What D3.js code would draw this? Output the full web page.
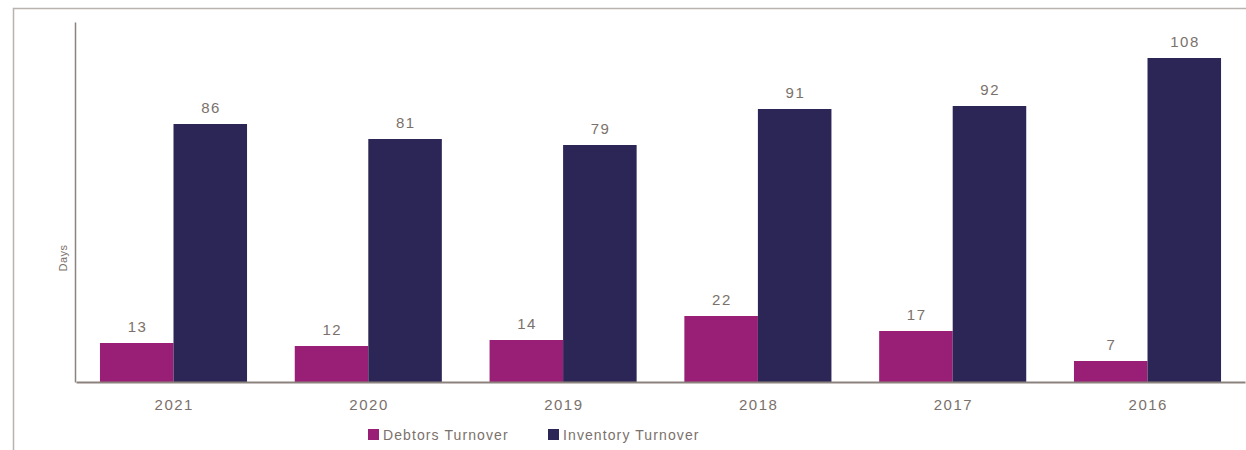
<!DOCTYPE html>
<html><head><meta charset="utf-8">
<script src="https://cdn.jsdelivr.net/npm/d3@7"></script>
<style>body{margin:0;background:#fff;} svg{display:block;font-family:"Liberation Sans",Arial,sans-serif;}</style>
</head><body>
<svg id="c" width="1246" height="450"></svg>
<script>
const years = ["2021","2020","2019","2018","2017","2016"];
const debtors = [13,12,14,22,17,7];
const inventory = [86,81,79,91,92,108];
const seriesNames = ["Debtors Turnover","Inventory Turnover"];
const colors = ["#981e76","#2c2656"];
const yTitle = "Days";

const svg = d3.select("#c");
const x0 = d3.scaleBand().domain(years).range([76,1245]).paddingInner(0.245).paddingOuter(0.123);
const x1 = d3.scaleBand().domain([0,1]).range([0,x0.bandwidth()]);
const y = d3.scaleLinear().domain([0,120]).range([382,22]);

// frame
svg.append("path").attr("d","M13.5,450V8.5H1246").attr("fill","none").attr("stroke","#b8b3ae").attr("stroke-width",1.5);

const data = years.map((yr,i)=>({yr, vals:[debtors[i],inventory[i]]}));
const g = svg.append("g");
const grp = g.selectAll("g.grp").data(data).enter().append("g").attr("transform",d=>`translate(${x0(d.yr)},0)`);
grp.selectAll("rect").data(d=>d.vals.map((v,k)=>({v,k}))).enter().append("rect")
  .attr("x",d=>x1(d.k)).attr("width",x1.bandwidth())
  .attr("y",d=>y(d.v)).attr("height",d=>y(0)-y(d.v))
  .attr("fill",d=>colors[d.k]);
grp.selectAll("text").data(d=>d.vals.map((v,k)=>({v,k}))).enter().append("text")
  .attr("x",d=>x1(d.k)+x1.bandwidth()/2+0.75).attr("y",d=>y(d.v)-11)
  .attr("text-anchor","middle").attr("font-size",15).attr("letter-spacing",1.5).attr("fill","#7b716b").text(d=>d.v);

// axes
const xa = svg.append("g").attr("transform","translate(0,382)").call(d3.axisBottom(x0).tickSize(0).tickPadding(17));
xa.select(".domain").attr("stroke","#8b827d").attr("stroke-width",2);
xa.selectAll("text").attr("font-size",15).attr("letter-spacing",1.5).attr("dx",0.75).attr("fill","#7b716b").attr("font-family","Liberation Sans, Arial, sans-serif");
const ya = svg.append("g").attr("transform","translate(75,0)").call(d3.axisLeft(y).tickValues([]).tickSize(0));
ya.select(".domain").attr("stroke","#8b827d").attr("stroke-width",1.5);

svg.append("text").attr("transform","translate(67,258) rotate(-90)").attr("text-anchor","middle")
  .attr("font-size",11).attr("letter-spacing",0.5).attr("fill","#7b716b").text(yTitle);

// legend
const leg = [[368,383],[548,563]];
seriesNames.forEach((n,i)=>{
  svg.append("rect").attr("x",leg[i][0]).attr("y",429).attr("width",11).attr("height",11).attr("fill",colors[i]);
  svg.append("text").attr("x",leg[i][1]).attr("y",440).attr("font-size",14).attr("letter-spacing",1.1).attr("fill","#7b716b").text(n);
});
</script>
</body></html>
